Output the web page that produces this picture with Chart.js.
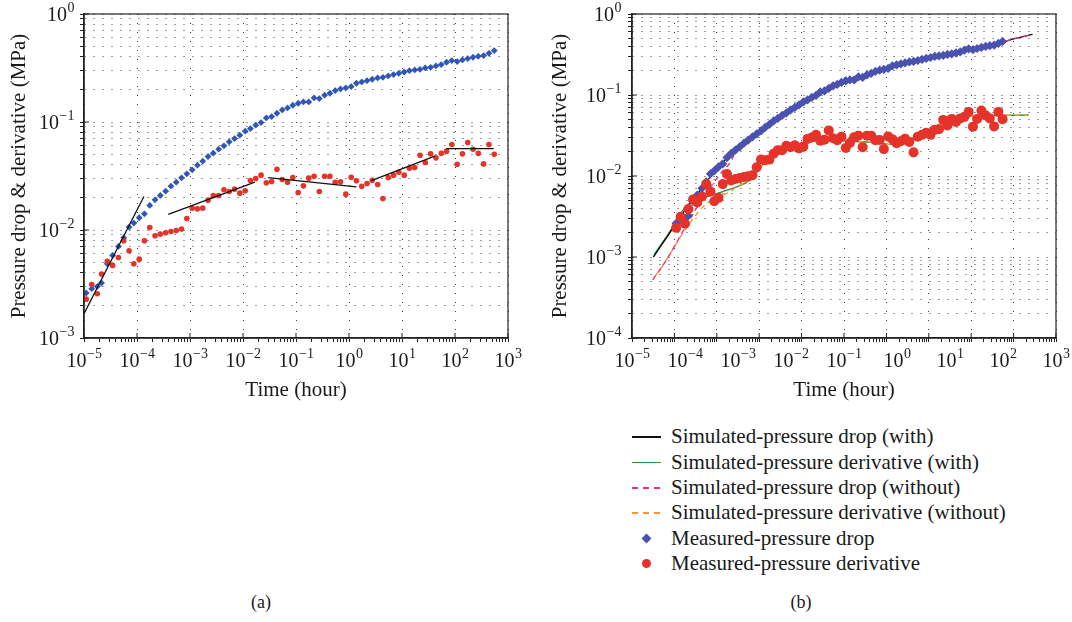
<!DOCTYPE html>
<html>
<head>
<meta charset="utf-8">
<title>Pressure drop and derivative</title>
<script src="https://cdn.jsdelivr.net/npm/chart.js@4.4.1/dist/chart.umd.min.js"></script>
<style>
  html, body { margin: 0; padding: 0; background: #fff; }
  body { position: relative; width: 1072px; height: 622px; overflow: hidden;
         font-family: 'Liberation Serif', 'Times New Roman', serif; color: #1a1a1a; }
  #chartA { position: absolute; left: 0; top: 0; }
  #chartB { position: absolute; left: 540px; top: 0; }
  .tag { position: absolute; top: 592px; width: 60px; text-align: center; font-size: 18px; }
  #legend { position: absolute; left: 632px; top: 424px; font-size: 21px; }
  .lg-row { height: 25.4px; display: flex; align-items: center; white-space: nowrap; }
  .lg-key { width: 29px; height: 25px; margin-right: 10px; position: relative; flex: none; }
  .lg-line { position: absolute; left: 0; width: 29px; top: 12px; height: 1.6px; }
  .lg-dash { position: absolute; top: 12px; width: 6px; height: 1.6px; }
  .lg-diamond { position: absolute; left: 11px; top: 9px; width: 7px; height: 7px; transform: rotate(45deg); }
  .lg-dot { position: absolute; left: 10px; top: 8px; width: 9px; height: 9px; border-radius: 50%; }
</style>
</head>
<body>
<canvas id="chartA" width="530" height="410"></canvas>
<canvas id="chartB" width="532" height="410"></canvas>
<div class="tag" style="left:231px">(a)</div>
<div class="tag" style="left:771px">(b)</div>
<div id="legend"></div>

<script>
// ---------------- data (time in hours, pressure in MPa) ----------------
const timeH = [
  1.1e-5, 1.4e-5, 1.78e-5, 2.14e-5, 2.75e-5, 3.47e-5, 4.47e-5, 5.62e-5, 7.08e-5, 8.71e-5,
  1.1e-4, 1.38e-4, 1.74e-4, 2.19e-4, 2.75e-4, 3.47e-4, 4.37e-4, 5.5e-4, 6.92e-4, 8.71e-4,
  1.1e-3, 1.38e-3, 1.74e-3, 2.19e-3, 2.75e-3, 3.47e-3, 4.37e-3, 5.5e-3, 6.92e-3, 8.71e-3,
  0.011, 0.0138, 0.0174, 0.0219, 0.0275, 0.0347, 0.0437, 0.055, 0.0692, 0.0871,
  0.11, 0.138, 0.174, 0.219, 0.275, 0.347, 0.437, 0.55, 0.692, 0.871,
  1.1, 1.38, 1.74, 2.19, 2.75, 3.47, 4.37, 5.5, 6.92, 8.71,
  11, 13.8, 17.4, 21.9, 27.5, 34.7, 43.7, 55, 69.2, 87.1,
  110, 138, 174, 219, 275, 347, 437, 550
];
const measuredDrop = [
  0.00261, 0.00286, 0.00300, 0.00323, 0.00487, 0.00581, 0.00704, 0.00848, 0.01064, 0.01159,
  0.01298, 0.01413, 0.01687, 0.01903, 0.02087, 0.02290, 0.02546, 0.02773, 0.03040, 0.03311,
  0.03606, 0.03983, 0.04337, 0.04790, 0.05140, 0.05597, 0.06011, 0.06546, 0.07028, 0.07547,
  0.08218, 0.08697, 0.09339, 0.09885, 0.1091, 0.1122, 0.1205, 0.1294, 0.1349, 0.1429,
  0.1492, 0.1535, 0.1535, 0.1671, 0.1648, 0.1770, 0.1846, 0.1954, 0.2023, 0.2066,
  0.2128, 0.2285, 0.2349, 0.2416, 0.2487, 0.2557, 0.2594, 0.2668, 0.2746, 0.2825,
  0.2905, 0.2990, 0.3035, 0.3076, 0.3166, 0.3211, 0.3304, 0.3399, 0.3573, 0.3701,
  0.3623, 0.3753, 0.3862, 0.3975, 0.4059, 0.4118, 0.4327, 0.4581
];
const measuredDeriv = [
  0.00229, 0.00313, 0.00257, 0.00391, 0.00512, 0.00470, 0.00557, 0.00794, 0.00642, 0.00487,
  0.00537, 0.00794, 0.01055, 0.00883, 0.00916, 0.00942, 0.00969, 0.00990, 0.01019, 0.01279,
  0.01593, 0.01570, 0.01593, 0.01889, 0.02086, 0.02086, 0.02355, 0.02272, 0.02389, 0.02194,
  0.02306, 0.02872, 0.02998, 0.03219, 0.02733, 0.02812, 0.03657, 0.02933, 0.02772, 0.03061,
  0.02224, 0.02564, 0.03019, 0.03150, 0.02272, 0.03150, 0.03150, 0.02772, 0.02792, 0.02147,
  0.03083, 0.02852, 0.02545, 0.02693, 0.02892, 0.02636, 0.01958, 0.03061, 0.03219, 0.03430,
  0.03219, 0.03736, 0.03789, 0.04929, 0.04214, 0.05071, 0.04656, 0.05142, 0.05370, 0.06185,
  0.04066, 0.05071, 0.06451, 0.05600, 0.05142, 0.04095, 0.06185, 0.05035
];

// straight flow-regime lines of panel (a)
const trendStartX = [1.0e-5, 3.89e-4, 0.0299, 2.65, 68.9];
const trendStartY = [0.00168, 0.01393, 0.0306, 0.0287, 0.0568];
const trendEndX   = [1.35e-4, 0.01675, 1.38, 41.5, 538];
const trendEndY   = [0.0204, 0.0277, 0.0251, 0.0482, 0.0568];

// simulated curves of panel (b)
const simDropWithT = [3.19e-6, 5.05e-6, 7.3e-6, 1.05e-5, 1.52e-5, 2.2e-5, 3.18e-5, 4.6e-5, 6.65e-5, 8.75e-5,
  1.58e-4, 3.16e-4, 1e-3, 3.16e-3, 0.01, 0.0316, 0.1, 0.316, 1, 3.16, 10, 31.6, 100, 316, 1000, 2800];
const simDropWith = [0.00100, 0.00143, 0.00189, 0.00254, 0.00337, 0.00441, 0.00564, 0.00721, 0.00940, 0.01159,
  0.0158, 0.0221, 0.0349, 0.0542, 0.0795, 0.111, 0.1467, 0.172, 0.210, 0.253, 0.287, 0.319, 0.365, 0.409, 0.493, 0.56];

const simDerivWithT = [3.37e-6, 7.3e-6, 1.83e-5, 3.83e-5, 6.65e-5, 1.39e-4, 2.9e-4, 6.05e-4, 9.6e-4, 1.39e-3,
  2.19e-3, 3.81e-3, 7.96e-3, 0.01663, 0.0417, 0.1047, 0.263, 0.659, 1.377, 1.99,
  3.46, 6.01, 10.4, 18.1, 37.8, 79.1, 165, 414, 2296];
const simDerivWith = [0.00108, 0.001945, 0.004159, 0.00513, 0.005636, 0.006427, 0.007345, 0.008872, 0.0118, 0.01496,
  0.01807, 0.02148, 0.02472, 0.02667, 0.02773, 0.02698, 0.02642, 0.0257, 0.02449, 0.02523,
  0.02773, 0.03199, 0.03758, 0.04375, 0.04898, 0.05383, 0.05546, 0.05598, 0.05649];

const simDropWithoutT = [3.08e-6, 5.05e-6, 7.3e-6, 1.054e-5, 1.52e-5, 2.2e-5, 3.18e-5, 4.6e-5, 6.65e-5, 9.6e-5,
  1.39e-4, 2.0e-4, 3.16e-4, 1e-3, 3.16e-3, 0.01, 0.0316, 0.1, 0.316, 1, 3.16, 10, 31.6, 100, 316, 1000, 2800];
const simDropWithout = [5.26e-4, 7.53e-4, 0.00102, 0.00142, 0.00199, 0.00279, 0.00386, 0.00527, 0.00702, 0.00906,
  0.01159, 0.01426, 0.0221, 0.0349, 0.0542, 0.0795, 0.111, 0.1467, 0.172, 0.210, 0.253, 0.287, 0.319, 0.365, 0.409, 0.493, 0.56];

const simDerivWithoutT = [3.08e-6, 5.05e-6, 7.3e-6, 1.054e-5, 1.52e-5, 2.2e-5, 3.18e-5, 4.6e-5, 6.65e-5, 1.153e-4,
  2.0e-4, 2.9e-4, 6.05e-4, 9.6e-4, 1.39e-3, 2.19e-3, 3.81e-3, 7.96e-3, 0.01663, 0.0417,
  0.1047, 0.263, 0.659, 1.377, 1.99, 3.46, 6.01, 10.4, 18.1, 37.8, 79.1, 165, 414, 2296];
const simDerivWithout = [5.26e-4, 7.53e-4, 0.00102, 0.0014, 0.00191, 0.00254, 0.00328, 0.00408, 0.0048, 0.00564,
  0.00631, 0.007345, 0.008872, 0.0118, 0.01496, 0.01807, 0.02148, 0.02472, 0.02667, 0.02773,
  0.02698, 0.02642, 0.0257, 0.02449, 0.02523, 0.02773, 0.03199, 0.03758, 0.04375, 0.04898, 0.05383, 0.05546, 0.05598, 0.05649];

const seriesNames = [
  'Simulated-pressure drop (with)',
  'Simulated-pressure derivative (with)',
  'Simulated-pressure drop (without)',
  'Simulated-pressure derivative (without)',
  'Measured-pressure drop',
  'Measured-pressure derivative'
];

// axis decades (exponents)
const xDecadesA = [-5, 3];      // panel (a) time axis
const xDecadesB = [-6, 4];      // panel (b) drawn time axis
const xLabelDecadesB = [-5, 3]; // panel (b) printed tick labels
const yDecadesA = [-3, 0];
const yDecadesB = [-4, 0];

// ---------------- helpers ----------------
const C_BLACK = '#111111', C_GREEN = '#23923a', C_PINK = '#ec2f8e', C_ORANGE = '#f29a2e';
const C_BLUE_A = '#2f56b8', C_BLUE_B = '#4a52b0', C_RED = '#e5332a';
const DOTS = '#3a3a3a', INK = '#1a1a1a';
const SERIF = "'Liberation Serif', 'Times New Roman', serif";

function isDecade(v) {
  const l = Math.log10(v);
  return Math.abs(l - Math.round(l)) < 1e-6;
}
function logTicks(range, minor) {
  const out = [];
  for (let e = range[0]; e <= range[1]; e++) {
    out.push({value: Math.pow(10, e)});
    if (minor && e < range[1]) for (let m = 2; m <= 9; m++) out.push({value: m * Math.pow(10, e)});
  }
  return out;
}
const pts = (xs, ys) => xs.map((x, i) => ({x: x, y: ys[i]}));

function logAxis(range, o) {
  const showGrid = o.grid !== false;
  return {
    type: 'logarithmic',
    position: o.position,
    weight: o.weight || 0,
    min: Math.pow(10, range[0]),
    max: Math.pow(10, range[1]),
    afterBuildTicks: s => { s.ticks = logTicks(range, o.minor); },
    afterFit: s => { if (o.horizontal) s.height = o.size; else s.width = o.size; },
    ticks: { display: false, autoSkip: false, maxRotation: 0 },
    grid: { display: showGrid, drawTicks: showGrid, tickLength: 4, tickColor: '#222', tickWidth: 1,
            tickBorderDash: [], lineWidth: 1,
            color: c => (o.allLines || (c.tick && isDecade(c.tick.value))) ? DOTS : 'rgba(0,0,0,0)' },
    border: { display: showGrid, color: '#222', width: 1.5, dash: [1, 8] },
    title: o.title ? { display: true, text: o.title, font: {size: 21}, color: INK, padding: o.titlePad }
                   : { display: false }
  };
}

// plot frame plus short inward marks at each decade
const frameBox = {
  id: 'frameBox',
  afterDatasetsDraw(chart, args, opts) {
    const {ctx, chartArea: a} = chart;
    ctx.save();
    ctx.strokeStyle = '#222';
    ctx.lineWidth = 1.2;
    ctx.strokeRect(a.left, a.top, a.right - a.left, a.bottom - a.top);
    ctx.lineWidth = 1;
    (opts.axes || []).forEach(id => {
      const s = chart.scales[id];
      s.ticks.forEach(t => {
        if (!isDecade(t.value)) return;
        const p = s.getPixelForValue(t.value);
        ctx.beginPath();
        if (s.isHorizontal()) { ctx.moveTo(p, a.bottom); ctx.lineTo(p, a.bottom - 5); }
        else { ctx.moveTo(a.left, p); ctx.lineTo(a.left + 5, p); }
        ctx.stroke();
      });
    });
    ctx.restore();
  }
};

// "10" with a raised exponent at every decade of the listed scales
const powerLabels = {
  id: 'powerLabels',
  afterDraw(chart, args, opts) {
    const ctx = chart.ctx;
    const baseFont = '20px ' + SERIF, expFont = '14px ' + SERIF;
    ctx.save();
    ctx.fillStyle = INK;
    ctx.textAlign = 'left';
    ctx.textBaseline = 'alphabetic';
    (opts.axes || []).forEach(ax => {
      const s = chart.scales[ax.id];
      for (let e = ax.range[0]; e <= ax.range[1]; e++) {
        const p = s.getPixelForValue(Math.pow(10, e));
        const exp = String(e).replace('-', '\u2212');
        ctx.font = baseFont; const w1 = ctx.measureText('10').width;
        ctx.font = expFont; const w2 = ctx.measureText(exp).width;
        let x0, base;
        if (s.isHorizontal()) { x0 = p - (w1 + w2) / 2; base = s.top + ax.offset; }
        else { x0 = s.right - ax.offset - (w1 + w2) - 1; base = p + 7; }
        ctx.font = baseFont; ctx.fillText('10', x0, base);
        ctx.font = expFont; ctx.fillText(exp, x0 + w1 + 0.5, base - 9.5);
      }
    });
    ctx.restore();
  }
};

Chart.defaults.font.family = SERIF;
Chart.defaults.color = INK;

const baseOpts = () => ({
  responsive: false,
  animation: false,
  plugins: { legend: { display: false }, tooltip: { enabled: false } }
});

// ---------------- panel (a) ----------------
const trendSets = trendStartX.map((x0, i) => ({
  label: 'trend ' + (i + 1),
  data: [{x: x0, y: trendStartY[i]}, {x: trendEndX[i], y: trendEndY[i]}],
  showLine: true, borderColor: C_BLACK, borderWidth: 1.3, pointRadius: 0, fill: false
}));

const optsA = baseOpts();
optsA.plugins.frameBox = { axes: ['x', 'y'] };
optsA.plugins.powerLabels = { axes: [{id: 'x', range: xDecadesA, offset: 29}, {id: 'y', range: yDecadesA, offset: 9}] };
optsA.layout = { padding: { left: 0, top: 14, right: 22, bottom: 0 } };
optsA.scales = {
  x: logAxis(xDecadesA, { position: 'bottom', horizontal: true, size: 72, minor: true,
                          title: 'Time (hour)', titlePad: {top: 0, bottom: 7} }),
  y: logAxis(yDecadesA, { position: 'left', size: 84, minor: true, allLines: true,
                          title: 'Pressure drop & derivative (MPa)', titlePad: {top: 7, bottom: 0} })
};

new Chart(document.getElementById('chartA'), {
  type: 'scatter',
  data: {
    datasets: [
      ...trendSets,
      { label: seriesNames[5], data: pts(timeH, measuredDeriv), pointStyle: 'circle',
        pointRadius: 2.8, backgroundColor: C_RED, borderWidth: 0 },
      { label: seriesNames[4], data: pts(timeH, measuredDrop), pointStyle: 'rectRot',
        pointRadius: 3.4, backgroundColor: C_BLUE_A, borderWidth: 0 }
    ]
  },
  options: optsA,
  plugins: [frameBox, powerLabels]
});

// ---------------- panel (b) ----------------
const simLine = (label, xs, ys, color, dash, dashOffset) => ({
  label: label, data: pts(xs, ys), showLine: true, borderColor: color, borderWidth: 1.4,
  borderDash: dash || [], borderDashOffset: dashOffset || 0,
  pointRadius: 0, fill: false, cubicInterpolationMode: 'monotone'
});

const optsB = baseOpts();
optsB.plugins.frameBox = { axes: ['x', 'y'] };
optsB.plugins.powerLabels = { axes: [{id: 'xl', range: xLabelDecadesB, offset: 25}, {id: 'y', range: yDecadesB, offset: 10}] };
optsB.layout = { padding: { left: 0, top: 14, right: 16, bottom: 0 } };
optsB.scales = {
  x: logAxis(xDecadesB, { position: 'bottom', horizontal: true, size: 4, minor: true }),
  xl: logAxis(xLabelDecadesB, { position: 'bottom', weight: 1, horizontal: true, size: 68, minor: false, grid: false,
                                title: 'Time (hour)', titlePad: {top: 0, bottom: 7} }),
  y: logAxis(yDecadesB, { position: 'left', size: 92, minor: true, allLines: true,
                          title: 'Pressure drop & derivative (MPa)', titlePad: {top: 8, bottom: 0} })
};

new Chart(document.getElementById('chartB'), {
  type: 'scatter',
  data: {
    datasets: [
      { label: seriesNames[5], data: pts(timeH, measuredDeriv), pointStyle: 'circle',
        pointRadius: 5, backgroundColor: C_RED, borderWidth: 0 },
      { label: seriesNames[4], data: pts(timeH, measuredDrop), pointStyle: 'rectRot',
        pointRadius: 4.6, backgroundColor: C_BLUE_B, borderWidth: 0 },
      simLine(seriesNames[2], simDropWithoutT, simDropWithout, C_PINK, [5, 4]),
      simLine(seriesNames[3], simDerivWithoutT, simDerivWithout, C_ORANGE, [5, 4], 4.5),
      simLine(seriesNames[0], simDropWithT, simDropWith, C_BLACK),
      simLine(seriesNames[1], simDerivWithT, simDerivWith, C_GREEN)
    ]
  },
  options: optsB,
  plugins: [frameBox, powerLabels]
});

// ---------------- legend of panel (b) ----------------
const legendKeys = [
  {kind: 'line', color: C_BLACK},
  {kind: 'line', color: C_GREEN},
  {kind: 'dash', color: C_PINK},
  {kind: 'dash', color: C_ORANGE},
  {kind: 'diamond', color: C_BLUE_B},
  {kind: 'dot', color: C_RED}
];
document.getElementById('legend').innerHTML = legendKeys.map((k, i) => {
  let key;
  if (k.kind === 'line') key = `<div class="lg-line" style="background:${k.color}"></div>`;
  else if (k.kind === 'dash') key = [0, 11, 22].map(l => `<div class="lg-dash" style="left:${l}px;background:${k.color}"></div>`).join('');
  else if (k.kind === 'diamond') key = `<div class="lg-diamond" style="background:${k.color}"></div>`;
  else key = `<div class="lg-dot" style="background:${k.color}"></div>`;
  return `<div class="lg-row"><div class="lg-key">${key}</div><span>${seriesNames[i]}</span></div>`;
}).join('');
</script>
</body>
</html>
